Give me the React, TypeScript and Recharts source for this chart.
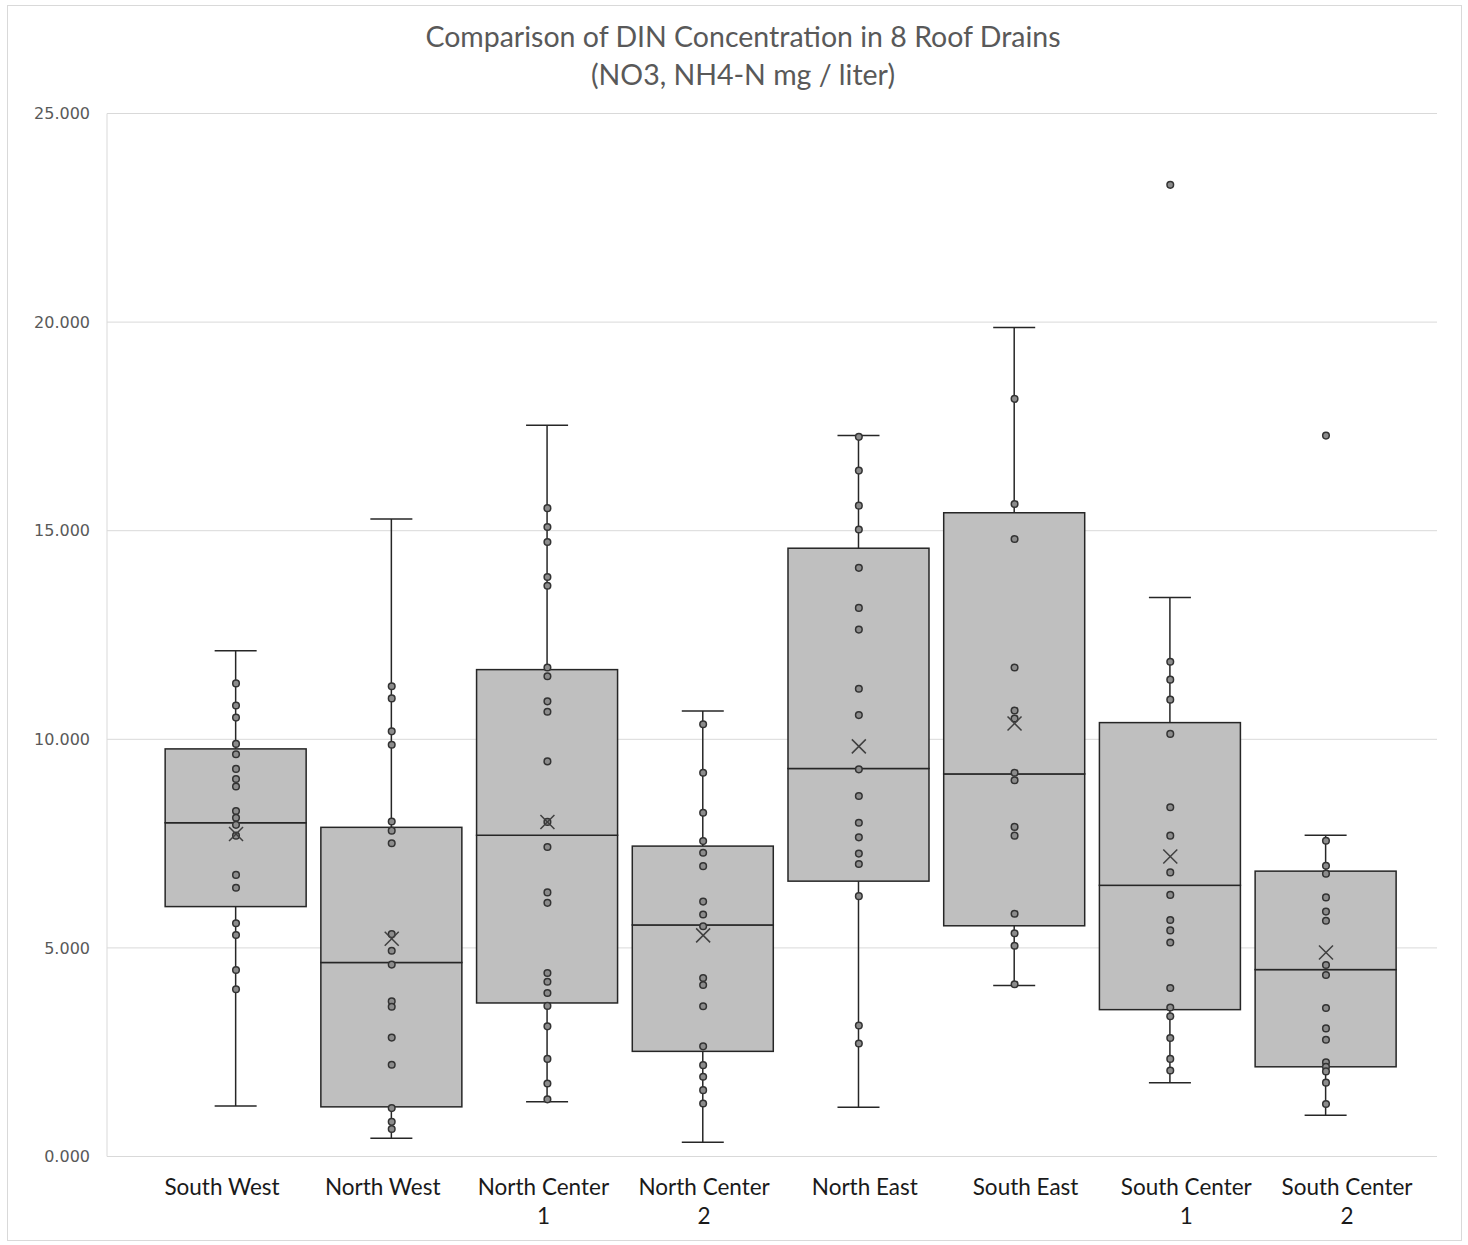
import React from 'react';
import { ComposedChart, Bar, Scatter, XAxis, YAxis, CartesianGrid } from 'recharts';

const categories = [
  'South West',
  'North West',
  'North Center 1',
  'North Center 2',
  'North East',
  'South East',
  'South Center 1',
  'South Center 2',
];

// five-number summary per drain, plus the mean (X marker)
const mins = [1.21, 0.44, 1.31, 0.34, 1.18, 4.1, 1.77, 0.99];
const q1s = [5.99, 1.19, 3.68, 2.52, 6.6, 5.53, 3.52, 2.15];
const medians = [8.0, 4.65, 7.7, 5.55, 9.3, 9.17, 6.5, 4.48];
const q3s = [9.77, 7.89, 11.67, 7.44, 14.58, 15.43, 10.4, 6.84];
const maxs = [12.12, 15.28, 17.53, 10.68, 17.28, 19.87, 13.4, 7.7];
const means = [7.73, 5.22, 8.02, 5.3, 9.83, 10.38, 7.19, 4.89];

// individual samples
const southWest = [11.34, 10.81, 10.52, 9.89, 9.64, 9.29, 9.05, 8.87, 8.28, 8.12, 7.95, 7.69, 6.75, 6.44, 5.59, 5.31, 4.47, 4.01];
const northWest = [11.27, 10.98, 10.19, 9.87, 8.03, 7.81, 7.51, 5.33, 4.93, 4.6, 3.72, 3.59, 2.85, 2.2, 1.16, 0.83, 0.66];
const northCenter1 = [15.54, 15.09, 14.73, 13.89, 13.68, 11.72, 11.51, 10.91, 10.66, 9.47, 8.02, 7.42, 6.33, 6.08, 4.4, 4.19, 3.92, 3.61, 3.12, 2.34, 1.75, 1.37];
const northCenter2 = [10.36, 9.2, 8.24, 7.56, 7.28, 6.96, 6.11, 5.8, 5.52, 4.28, 4.11, 3.6, 2.64, 2.19, 1.91, 1.59, 1.27];
const northEast = [17.25, 16.44, 15.6, 15.03, 14.11, 13.15, 12.63, 11.21, 10.58, 9.28, 8.64, 8.0, 7.65, 7.26, 7.01, 6.24, 3.14, 2.71];
const southEast = [18.16, 15.64, 14.8, 11.72, 10.69, 10.5, 9.2, 9.02, 7.9, 7.69, 5.82, 5.35, 5.05, 4.13];
const southCenter1 = [23.29, 11.86, 11.43, 10.95, 10.13, 8.37, 7.69, 6.81, 6.27, 5.67, 5.42, 5.13, 4.04, 3.57, 3.36, 2.84, 2.34, 2.06];
const southCenter2 = [17.28, 7.57, 6.97, 6.78, 6.21, 5.87, 5.65, 4.59, 4.35, 3.56, 3.07, 2.8, 2.26, 2.15, 2.04, 1.77, 1.26];

const yTicks = [0, 5, 10, 15, 20, 25];

const samples = [southWest, northWest, northCenter1, northCenter2, northEast, southEast, southCenter1, southCenter2];

const boxData = categories.map((name, i) => ({
  x: i,
  name,
  base: mins[i],
  lowW: q1s[i] - mins[i],
  lowBox: medians[i] - q1s[i],
  upBox: q3s[i] - medians[i],
  highW: maxs[i] - q3s[i],
}));

const pointData = samples.flatMap((vals, i) => vals.map((v) => ({ x: i, value: v })));
const meanData = means.map((m, i) => ({ x: i, value: m }));

const catIndexes = categories.map((_, i) => i);

const LINE = '#262626';
const CAP = 21;

const LowWhisker = (props: any) => {
  const { x, y, width, height } = props;
  const cx = x + width / 2;
  return (
    <g>
      <line x1={cx} y1={y} x2={cx} y2={y + height} stroke={LINE} strokeWidth={1.5} />
      <line x1={cx - CAP} y1={y + height} x2={cx + CAP} y2={y + height} stroke={LINE} strokeWidth={1.5} />
    </g>
  );
};

const HighWhisker = (props: any) => {
  const { x, y, width, height } = props;
  const cx = x + width / 2;
  return (
    <g>
      <line x1={cx} y1={y} x2={cx} y2={y + height} stroke={LINE} strokeWidth={1.5} />
      <line x1={cx - CAP} y1={y} x2={cx + CAP} y2={y} stroke={LINE} strokeWidth={1.5} />
    </g>
  );
};

const BoxPart = (props: any) => {
  const { x, y, width, height } = props;
  return <rect x={x} y={y} width={width} height={height} fill="#bfbfbf" stroke={LINE} strokeWidth={1.5} />;
};

const Dot = (props: any) => {
  const { cx, cy } = props;
  return <circle cx={cx} cy={cy} r={3.3} fill="#8c8c8c" stroke="#333333" strokeWidth={1.5} />;
};

const MeanMark = (props: any) => {
  const { cx, cy } = props;
  const s = 7;
  return (
    <g stroke="#404040" strokeWidth={1.5}>
      <line x1={cx - s} y1={cy - s} x2={cx + s} y2={cy + s} />
      <line x1={cx - s} y1={cy + s} x2={cx + s} y2={cy - s} />
    </g>
  );
};

const CategoryTick = (props: any) => {
  const { x, y, payload } = props;
  const label = categories[payload.value] ?? '';
  const parts = label.split(' ');
  const lines = /\d$/.test(label) ? [parts.slice(0, -1).join(' '), parts[parts.length - 1]] : [label];
  return (
    <text x={x} y={y} textAnchor="middle" fill="#1a1a1a" fontSize={22.5} fontFamily="Lato, sans-serif">
      {lines.map((l, k) => (
        <tspan key={k} x={x} dy={k === 0 ? 30 : 29}>
          {l}
        </tspan>
      ))}
    </text>
  );
};

export default function App() {
  return (
    <div style={{ position: 'absolute', left: 0, top: 0, width: 1468, height: 1245, background: '#fff' }}>
      <div
        style={{
          position: 'absolute',
          left: 7,
          top: 5,
          width: 1453,
          height: 1234,
          border: '1px solid #d9d9d9',
        }}
      />
      <div
        style={{
          position: 'absolute',
          left: 0,
          top: 17,
          width: 1486,
          textAlign: 'center',
          color: '#595959',
          fontFamily: 'Lato, sans-serif',
          fontSize: 28.5,
          lineHeight: '38px',
        }}
      >
        <div>Comparison of DIN Concentration in 8 Roof Drains</div>
        <div>(NO3, NH4-N mg / liter)</div>
      </div>
      <ComposedChart
        width={1468}
        height={1245}
        data={boxData}
        margin={{ top: 113.5, right: 31, bottom: 28.5, left: 7 }}
        style={{ position: 'absolute', left: 0, top: 0 }}
      >
        <CartesianGrid vertical={false} stroke="#d9d9d9" xAxisId="box" />
        <XAxis
          xAxisId="box"
          type="number"
          dataKey="x"
          domain={[-0.8285, 7.713]}
          ticks={catIndexes}
          allowDataOverflow
          height={0}
          hide
        />
        <XAxis
          xAxisId="lab"
          type="number"
          dataKey="x"
          domain={[-0.7156, 7.56]}
          ticks={catIndexes}
          allowDataOverflow
          interval={0}
          height={60}
          axisLine={{ stroke: '#d9d9d9' }}
          tickLine={false}
          tick={<CategoryTick />}
        />
        <YAxis
          type="number"
          domain={[0, 25]}
          ticks={yTicks}
          width={100}
          axisLine={{ stroke: '#d9d9d9' }}
          tickLine={false}
          tickMargin={11}
          tickFormatter={(v: number) => v.toFixed(3)}
          tick={{ fill: '#595959', fontSize: 16, fontFamily: 'DejaVu Sans, sans-serif' }}
        />
        <Bar xAxisId="box" dataKey="base" stackId="b" fill="none" barSize={141} isAnimationActive={false} />
        <Bar xAxisId="box" dataKey="lowW" stackId="b" barSize={141} shape={<LowWhisker />} isAnimationActive={false} />
        <Bar xAxisId="box" dataKey="lowBox" stackId="b" barSize={141} shape={<BoxPart />} isAnimationActive={false} />
        <Bar xAxisId="box" dataKey="upBox" stackId="b" barSize={141} shape={<BoxPart />} isAnimationActive={false} />
        <Bar xAxisId="box" dataKey="highW" stackId="b" barSize={141} shape={<HighWhisker />} isAnimationActive={false} />
        <Scatter xAxisId="box" data={pointData} dataKey="value" shape={<Dot />} isAnimationActive={false} />
        <Scatter xAxisId="box" data={meanData} dataKey="value" shape={<MeanMark />} isAnimationActive={false} />
      </ComposedChart>
    </div>
  );
}
